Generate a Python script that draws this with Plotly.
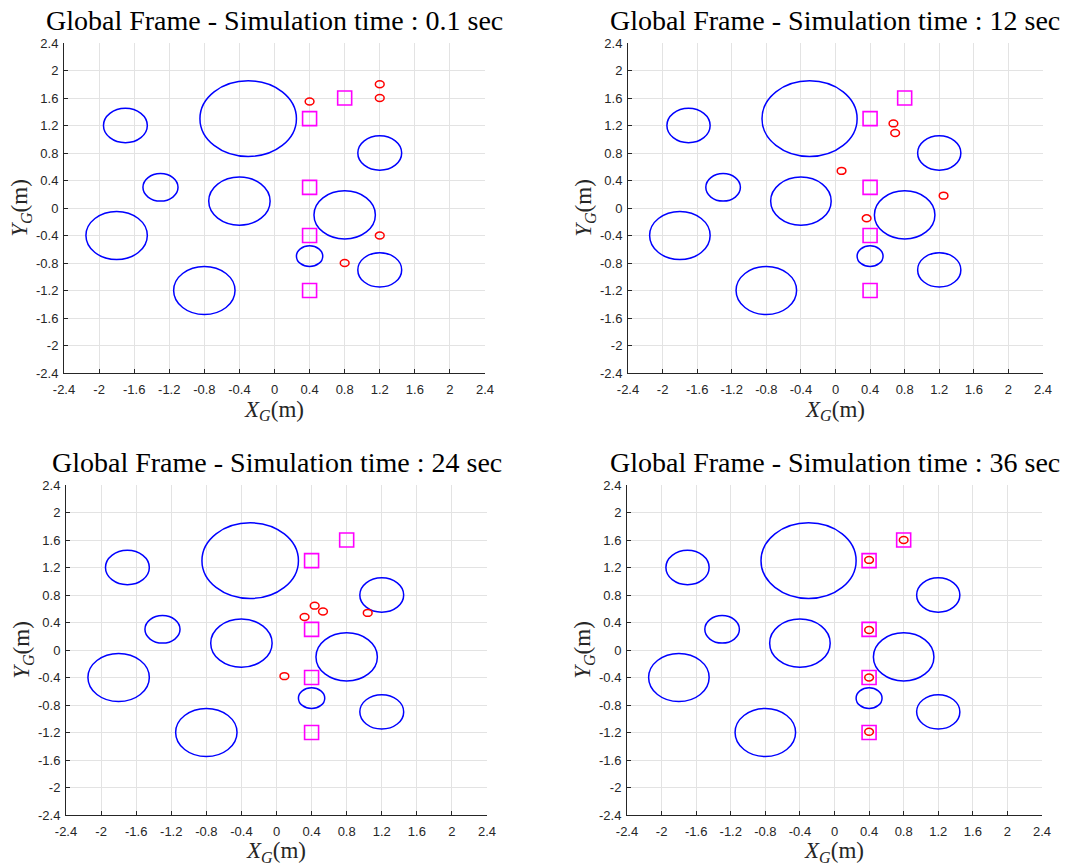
import plotly.graph_objects as go

# Obstacles (centre x, centre y, radius) in metres
obs_x = [-0.3, -1.7, 1.2, -1.3, -0.4, 0.8, -1.8, 0.4, 1.2, -0.8]
obs_y = [1.3, 1.2, 0.8, 0.3, 0.1, -0.1, -0.4, -0.7, -0.9, -1.2]
obs_r = [0.55, 0.25, 0.25, 0.2, 0.35, 0.35, 0.35, 0.15, 0.25, 0.35]

# Goal positions (magenta squares)
goal_x = [0.8, 0.4, 0.4, 0.4, 0.4]
goal_y = [1.6, 1.3, 0.3, -0.4, -1.2]

# Simulation snapshots
sim_times = ["0.1", "12", "24", "36"]
robot_x_t01 = [0.4, 1.2, 1.2, 1.2, 0.8]
robot_y_t01 = [1.55, 1.8, 1.6, -0.4, -0.8]
robot_x_t12 = [0.67, 0.69, 0.07, 1.25, 0.36]
robot_y_t12 = [1.23, 1.09, 0.54, 0.18, -0.15]
robot_x_t24 = [0.435, 0.53, 0.32, 1.04, 0.09]
robot_y_t24 = [0.645, 0.56, 0.48, 0.54, -0.38]
robot_x_t36 = [0.8, 0.4, 0.4, 0.4, 0.4]
robot_y_t36 = [1.6, 1.31, 0.29, -0.4, -1.19]
robot_r = 0.05

robots_x = [robot_x_t01, robot_x_t12, robot_x_t24, robot_x_t36]
robots_y = [robot_y_t01, robot_y_t12, robot_y_t24, robot_y_t36]

tick_vals = [-2.4, -2.0, -1.6, -1.2, -0.8, -0.4, 0.0, 0.4, 0.8, 1.2, 1.6, 2.0, 2.4]
tick_text = ["-2.4", "-2", "-1.6", "-1.2", "-0.8", "-0.4", "0", "0.4", "0.8", "1.2", "1.6", "2", "2.4"]

W, H = 1092, 866
# pixel boxes of each axes: (left, right, top, bottom)
boxes = [(64, 485, 43, 373), (628, 1043, 43, 373),
         (66, 487, 485, 815), (627, 1042, 485, 815)]
title_y_px = [20, 20, 463, 463]

fig = go.Figure()
shapes = []
annotations = []

axis_common = dict(
    range=[-2.4, 2.4], tickmode="array", tickvals=tick_vals, ticktext=tick_text,
    showgrid=True, gridcolor="#e3e3e3", gridwidth=1,
    showline=True, linecolor="#262626", linewidth=1, mirror=False,
    ticks="inside", ticklen=4, tickcolor="#262626", zeroline=False,
    automargin=False,
    tickfont=dict(family="Liberation Sans, Arial, sans-serif", size=13, color="#262626"),
)

for i in range(4):
    l, r, t, b = boxes[i]
    xa = "xaxis" if i == 0 else f"xaxis{i+1}"
    ya = "yaxis" if i == 0 else f"yaxis{i+1}"
    xref = "x" if i == 0 else f"x{i+1}"
    yref = "y" if i == 0 else f"y{i+1}"

    fig.update_layout(**{
        xa: dict(axis_common, domain=[l / W, r / W], anchor=yref, ticklabelstandoff=4,
                 title=dict(text="<i>X</i><sub><i>G</i></sub>(m)", standoff=0,
                            font=dict(family="Liberation Serif, serif", size=23, color="#262626"))),
        ya: dict(axis_common, domain=[1 - b / H, 1 - t / H], anchor=xref, ticklabelstandoff=2,
                 title=dict(text="<i>Y</i><sub><i>G</i></sub>(m)", standoff=1,
                            font=dict(family="Liberation Serif, serif", size=23, color="#262626"))),
    })

    # goals
    fig.add_trace(go.Scatter(
        x=goal_x, y=goal_y, mode="markers", xaxis=xref, yaxis=yref,
        marker=dict(symbol="square-open", size=14, color="#ff00ff", line=dict(width=1.6, color="#ff00ff")),
        showlegend=False, hoverinfo="skip"))

    # obstacles
    for cx, cy, rr in zip(obs_x, obs_y, obs_r):
        shapes.append(dict(type="circle", xref=xref, yref=yref,
                           x0=cx - rr, x1=cx + rr, y0=cy - rr, y1=cy + rr,
                           line=dict(color="#0000ff", width=1.5)))
    # robots
    for cx, cy in zip(robots_x[i], robots_y[i]):
        shapes.append(dict(type="circle", xref=xref, yref=yref,
                           x0=cx - robot_r, x1=cx + robot_r, y0=cy - robot_r, y1=cy + robot_r,
                           line=dict(color="#ff0000", width=1.5)))

    annotations.append(dict(
        text=f"Global Frame - Simulation time : {sim_times[i]} sec",
        xref="paper", yref="paper", x=(l + r) / 2 / W, y=1 - title_y_px[i] / H,
        xanchor="center", yanchor="middle", showarrow=False,
        font=dict(family="Liberation Serif, serif", size=28, color="#000000")))

fig.update_layout(
    width=W, height=H, margin=dict(l=0, r=0, t=0, b=0, autoexpand=False),
    paper_bgcolor="white", plot_bgcolor="white",
    shapes=shapes, annotations=annotations, showlegend=False,
)

fig.write_html("out.html", config={"displayModeBar": False},
               post_script="document.body.style.margin='0px';")
